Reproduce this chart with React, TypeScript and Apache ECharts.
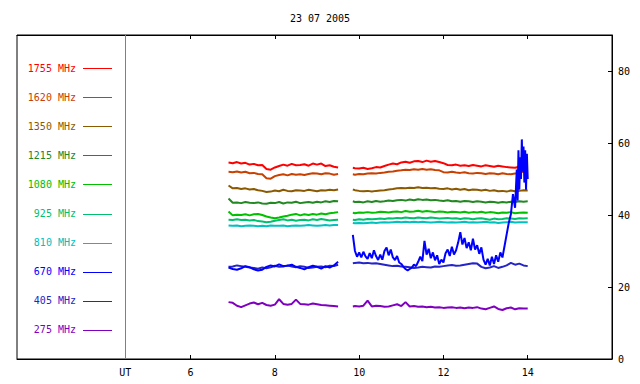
import React, { useEffect, useRef } from 'react';
import * as echarts from 'echarts';

const chartTitle = '23 07 2005';
const freqLabels = ['1755 MHz', '1620 MHz', '1350 MHz', '1215 MHz', '1080 MHz', '925 MHz', '810 MHz', '670 MHz', '405 MHz', '275 MHz'];
const freqColors = ['#ff0000', '#c84100', '#8b5a00', '#228822', '#00c000', '#00c070', '#00c0c0', '#0000ff', '#2424c8', '#8000c0'];

const yTicks = [0, 20, 40, 60, 80];
const xTicks = [6, 8, 10, 12, 14];
const utPos = 4.45;

// time stamps (UT hours)
const tA = [6.9, 7.0, 7.1, 7.2, 7.3, 7.4, 7.5, 7.6, 7.7, 7.8, 7.9, 8.0, 8.1, 8.2, 8.3, 8.4, 8.5, 8.6, 8.7, 8.8, 8.9, 9.0, 9.1, 9.2, 9.3, 9.4, 9.5];
const tB = [9.85, 9.9, 10.0, 10.1, 10.2, 10.3, 10.4, 10.5, 10.6, 10.7, 10.8, 10.9, 11.0, 11.1, 11.2, 11.3, 11.4, 11.5, 11.6, 11.7, 11.8, 11.9, 12.0, 12.1, 12.2, 12.3, 12.4, 12.5, 12.6, 12.7, 12.8, 12.9, 13.0, 13.1, 13.2, 13.3, 13.4, 13.5, 13.6, 13.7, 13.8, 13.9, 14.0];

const f1755A = [54.6, 54.4, 54.7, 54.3, 54.5, 54.0, 54.2, 53.8, 53.9, 52.8, 52.6, 53.2, 53.6, 54.0, 53.7, 54.2, 53.8, 53.9, 54.1, 53.7, 54.3, 54.0, 54.3, 53.6, 53.8, 53.4, 53.2];
const f1755B = [53.1, 53.0, 52.9, 53.1, 52.8, 53.0, 53.3, 53.2, 53.6, 54.0, 54.3, 54.1, 54.6, 54.8, 54.5, 54.9, 55.0, 54.7, 55.1, 54.8, 55.0, 54.7, 54.4, 53.9, 53.8, 54.0, 53.7, 53.8, 53.6, 53.9, 53.7, 53.5, 53.8, 53.6, 53.4, 53.7, 53.5, 53.3, 53.2, 53.1, 53.4, 54.0, 53.5];
const f1620A = [52.0, 51.9, 52.1, 51.8, 52.0, 51.6, 51.7, 51.4, 51.3, 50.2, 50.1, 50.8, 51.1, 51.3, 51.0, 51.4, 51.2, 51.3, 51.1, 51.4, 51.6, 51.5, 51.3, 51.6, 51.5, 51.2, 51.4];
const f1620B = [51.3, 51.2, 51.4, 51.3, 51.5, 51.6, 51.5, 51.7, 51.8, 52.0, 52.1, 52.3, 52.4, 52.6, 52.5, 52.7, 52.6, 52.8, 52.6, 52.7, 52.5, 52.4, 51.9, 51.8, 52.0, 51.8, 51.7, 51.9, 51.6, 51.5, 51.7, 51.6, 51.4, 51.6, 51.5, 51.3, 51.6, 51.4, 51.3, 51.5, 51.6, 52.1, 51.8];
const f1350A = [48.2, 47.4, 47.5, 47.2, 47.4, 47.1, 47.2, 46.9, 46.7, 46.4, 46.5, 46.8, 46.6, 47.0, 46.7, 46.6, 46.9, 46.8, 46.7, 47.0, 46.8, 46.6, 46.9, 46.8, 47.0, 46.9, 47.1];
const f1350B = [47.1, 46.9, 46.7, 46.6, 46.7, 46.5, 46.7, 46.8, 46.9, 47.1, 47.2, 47.4, 47.5, 47.4, 47.6, 47.5, 47.7, 47.5, 47.6, 47.4, 47.5, 47.3, 47.2, 47.4, 47.1, 47.3, 47.0, 47.2, 46.9, 47.1, 47.0, 46.8, 47.0, 46.7, 46.9, 46.6, 46.7, 46.5, 46.8, 46.6, 46.7, 46.9, 46.8];
const f1215A = [44.6, 43.4, 43.5, 43.3, 43.6, 43.4, 43.3, 43.5, 43.2, 43.1, 43.4, 43.3, 43.6, 43.2, 43.5, 43.4, 43.7, 43.3, 43.5, 43.6, 43.4, 43.7, 43.5, 43.8, 43.6, 43.9, 43.8];
const f1215B = [43.8, 43.6, 43.7, 43.5, 43.8, 43.6, 43.9, 43.7, 43.8, 44.0, 43.9, 44.1, 44.2, 44.0, 44.3, 44.1, 44.4, 44.2, 44.3, 44.1, 44.2, 44.0, 43.9, 44.1, 43.8, 43.9, 43.7, 43.9, 43.8, 43.6, 43.8, 43.7, 43.5, 43.7, 43.6, 43.4, 43.6, 43.5, 43.7, 43.6, 43.8, 43.7, 43.8];
const f1080A = [41.0, 39.9, 40.1, 40.0, 40.2, 39.9, 40.2, 40.3, 40.0, 39.6, 39.3, 39.1, 39.3, 39.6, 39.8, 40.1, 40.3, 39.9, 40.2, 40.0, 40.3, 40.1, 40.4, 40.2, 40.5, 40.6, 40.8];
const f1080B = [40.6, 40.5, 40.7, 40.6, 40.8, 40.6, 40.7, 40.9, 40.8, 40.7, 40.9, 41.0, 40.8, 41.1, 40.9, 41.0, 41.2, 40.9, 41.1, 41.0, 40.8, 41.0, 40.9, 40.7, 40.9, 40.8, 40.7, 40.9, 40.6, 40.8, 40.7, 40.9, 40.6, 40.8, 40.7, 40.5, 40.7, 40.6, 40.8, 40.5, 40.6, 40.7, 40.6];
const f925A = [38.7, 38.6, 38.8, 38.6, 38.7, 38.5, 38.6, 38.3, 38.2, 38.0, 38.1, 38.4, 38.6, 38.8, 38.5, 38.7, 38.4, 38.6, 38.7, 38.5, 38.8, 38.6, 38.9, 38.7, 38.5, 38.6, 38.7];
const f925B = [38.7, 38.6, 38.8, 38.7, 38.9, 38.8, 38.9, 39.0, 38.9, 39.1, 39.0, 39.2, 39.1, 39.3, 39.2, 39.1, 39.3, 39.2, 39.1, 39.3, 39.2, 39.0, 39.1, 39.2, 39.0, 39.1, 38.9, 39.1, 39.0, 38.8, 39.0, 39.1, 38.9, 38.7, 39.0, 38.8, 38.9, 39.1, 39.0, 38.9, 39.1, 39.0, 39.1];
const f810A = [37.1, 37.0, 37.1, 36.9, 37.0, 37.1, 37.0, 36.9, 37.0, 36.9, 37.1, 37.0, 37.0, 37.1, 36.9, 37.0, 37.1, 37.0, 37.1, 37.2, 37.1, 37.0, 37.1, 37.2, 37.1, 37.2, 37.2];
const f810B = [37.8, 37.7, 37.8, 37.7, 37.8, 37.9, 37.8, 37.9, 38.0, 37.9, 38.0, 38.1, 38.0, 38.1, 38.0, 38.1, 38.0, 38.1, 38.0, 37.9, 38.0, 38.1, 38.0, 37.9, 38.0, 37.9, 38.0, 38.1, 37.9, 38.0, 37.9, 38.0, 38.1, 37.9, 38.0, 37.8, 37.9, 38.0, 38.1, 37.9, 38.0, 38.0, 38.0];
const f670A = [25.4, 25.0, 24.8, 25.2, 25.8, 25.5, 24.9, 24.6, 24.8, 25.6, 26.0, 25.7, 26.3, 25.8, 25.9, 26.2, 25.6, 25.3, 24.9, 25.5, 25.9, 25.6, 25.1, 25.8, 25.4, 26.0, 27.0];
// 670 MHz, second interval, denser [UT, value] pairs
const f670B = [
  [9.85, 34.5], [9.9, 30.0], [9.95, 28.4], [10.0, 29.6], [10.05, 28.2], [10.1, 29.8], [10.15, 28.5], [10.2, 27.8], [10.25, 29.4], [10.3, 28.0],
  [10.35, 30.2], [10.4, 28.6], [10.45, 27.5], [10.5, 29.0], [10.55, 27.6], [10.6, 30.0], [10.65, 31.0], [10.7, 28.8], [10.75, 30.4], [10.8, 28.2],
  [10.85, 27.5], [10.9, 28.6], [10.95, 26.8], [11.0, 26.4], [11.05, 25.6], [11.1, 25.0], [11.15, 24.6], [11.2, 25.0], [11.25, 25.4], [11.3, 26.2],
  [11.35, 25.8], [11.4, 27.0], [11.45, 28.4], [11.5, 27.2], [11.55, 32.8], [11.6, 29.0], [11.65, 30.6], [11.7, 28.0], [11.75, 29.6], [11.8, 27.4],
  [11.85, 28.8], [11.9, 26.4], [11.95, 27.6], [12.0, 26.8], [12.05, 29.4], [12.1, 30.4], [12.15, 28.6], [12.2, 31.2], [12.25, 29.0], [12.3, 30.2],
  [12.35, 32.4], [12.4, 35.2], [12.45, 31.8], [12.5, 33.6], [12.55, 30.8], [12.6, 32.4], [12.65, 30.2], [12.7, 33.4], [12.75, 30.4], [12.8, 31.6],
  [12.85, 29.2], [12.9, 31.0], [12.95, 27.6], [13.0, 26.2], [13.05, 27.8], [13.1, 26.0], [13.15, 28.4], [13.2, 26.4], [13.25, 28.8], [13.3, 27.0],
  [13.35, 29.6], [13.4, 28.2], [13.45, 31.4], [13.5, 34.6], [13.55, 37.8], [13.6, 40.2], [13.65, 45.8], [13.7, 42.0], [13.74, 52.6], [13.76, 44.0],
  [13.78, 58.0], [13.8, 47.0], [13.82, 56.0], [13.84, 50.0], [13.86, 61.0], [13.88, 52.0], [13.9, 59.0], [13.92, 49.0], [13.94, 58.0], [13.96, 47.0],
  [13.98, 57.0], [14.0, 50.0]
];
const f405A = [25.6, 25.7, 26.0, 25.8, 25.6, 25.4, 25.3, 25.1, 25.4, 25.2, 25.5, 25.9, 25.6, 25.7, 26.0, 25.7, 25.5, 25.8, 25.6, 25.3, 25.4, 25.6, 25.7, 25.5, 25.9, 25.8, 26.2];
const f405B = [26.6, 26.7, 26.8, 26.6, 26.7, 26.5, 26.6, 26.4, 26.2, 26.0, 25.8, 25.9, 25.7, 25.6, 25.5, 25.3, 25.4, 25.6, 25.5, 25.4, 25.7, 25.6, 25.8, 26.0, 26.1, 25.9, 26.0, 26.2, 26.4, 26.6, 26.5, 25.6, 25.2, 25.4, 25.8, 25.3, 25.6, 26.0, 26.7, 26.2, 26.5, 26.0, 25.8];
const f275A = [15.8, 15.6, 14.8, 14.4, 14.9, 15.4, 15.7, 15.2, 15.6, 15.0, 14.8, 15.1, 16.6, 15.3, 15.1, 15.3, 16.5, 15.3, 15.2, 15.1, 15.4, 15.2, 15.0, 14.9, 14.8, 14.7, 14.6];
const f275B = [14.6, 14.7, 14.6, 14.8, 16.2, 14.6, 14.8, 14.7, 14.5, 14.6, 14.9, 15.2, 14.7, 15.8, 14.6, 14.7, 14.5, 14.6, 14.4, 14.5, 14.3, 14.4, 14.2, 14.3, 14.4, 14.2, 14.3, 14.1, 14.3, 14.2, 14.4, 14.0, 13.8, 14.2, 14.6, 13.9, 13.6, 14.1, 14.3, 13.8, 14.1, 14.0, 14.0];

const FONT = '"DejaVu Sans Mono", monospace';

function zip(t: number[], v: number[]) {
  return t.map((x, i) => [x, v[i]]);
}

function build(a: any[], b: any[]) {
  return [...a, [9.7, null], ...b];
}

const seriesData: any[][] = [
  build(zip(tA, f1755A), zip(tB, f1755B)),
  build(zip(tA, f1620A), zip(tB, f1620B)),
  build(zip(tA, f1350A), zip(tB, f1350B)),
  build(zip(tA, f1215A), zip(tB, f1215B)),
  build(zip(tA, f1080A), zip(tB, f1080B)),
  build(zip(tA, f925A), zip(tB, f925B)),
  build(zip(tA, f810A), zip(tB, f810B)),
  build(zip(tA, f670A), f670B),
  build(zip(tA, f405A), zip(tB, f405B)),
  build(zip(tA, f275A), zip(tB, f275B)),
];

export default function App() {
  const ref = useRef<HTMLDivElement>(null);
  useEffect(() => {
    document.body.style.margin = '0';
    const chart = echarts.init(ref.current!, null, { renderer: 'svg' });

    const drawOrder = [9, 8, 6, 5, 4, 3, 2, 1, 0, 7];
    const series: any[] = drawOrder.map((i, k) => ({
      name: freqLabels[i],
      type: 'line',
      data: seriesData[i],
      showSymbol: false,
      connectNulls: false,
      lineStyle: { color: freqColors[i], width: 2 },
      itemStyle: { color: freqColors[i] },
      z: 2 + k,
      ...(k === 0
        ? {
            markLine: {
              silent: true,
              symbol: 'none',
              label: { show: false },
              lineStyle: { color: '#808080', width: 1, type: 'solid' },
              data: [{ xAxis: utPos }],
            },
          }
        : {}),
    }));

    const legendGraphics: any[] = [];
    freqLabels.forEach((lab, i) => {
      const y = 68 + i * 29.1;
      legendGraphics.push({
        type: 'text',
        x: 76,
        y,
        style: {
          text: lab,
          fill: freqColors[i],
          font: `10px ${FONT}`,
          textAlign: 'right',
          textVerticalAlign: 'middle',
        },
      });
      legendGraphics.push({
        type: 'line',
        shape: { x1: 83, y1: Math.round(y) + 0.5, x2: 112, y2: Math.round(y) + 0.5 },
        style: { stroke: freqColors[i], lineWidth: 1 },
      });
    });

    const option: any = {
      animation: false,
      backgroundColor: '#ffffff',
      title: {
        text: chartTitle,
        left: 315,
        top: 8,
        textAlign: 'center',
        textStyle: { fontFamily: FONT, fontSize: 10, fontWeight: 'normal', color: '#000' },
      },
      grid: {
        left: 17,
        top: 35,
        width: 595,
        height: 324,
        show: true,
        borderColor: '#000',
        borderWidth: 1,
        backgroundColor: 'transparent',
      },
      xAxis: [
        {
          type: 'value',
          position: 'bottom',
          min: 1.88,
          max: 16,
          splitLine: { show: false },
          axisLine: { show: true, lineStyle: { color: '#000', width: 1 } },
          axisTick: { show: true, inside: true, length: 4, customValues: xTicks, lineStyle: { color: '#000' } },
          axisLabel: {
            customValues: [utPos, ...xTicks],
            formatter: (v: number) => (v < 5 ? 'UT' : String(v)),
            fontFamily: FONT,
            fontSize: 10,
            color: '#000',
            margin: 8,
          },
        },
        {
          type: 'value',
          position: 'top',
          min: 1.88,
          max: 16,
          splitLine: { show: false },
          axisLine: { show: true, lineStyle: { color: '#000', width: 1 } },
          axisTick: { show: true, inside: true, length: 4, customValues: xTicks, lineStyle: { color: '#000' } },
          axisLabel: { show: false },
        },
      ],
      yAxis: [
        {
          type: 'value',
          position: 'right',
          min: 0,
          max: 90,
          splitLine: { show: false },
          axisLine: { show: true, lineStyle: { color: '#000', width: 1 } },
          axisTick: { show: true, inside: true, length: 4, customValues: yTicks, lineStyle: { color: '#000' } },
          axisLabel: {
            customValues: yTicks,
            fontFamily: FONT,
            fontSize: 10,
            color: '#000',
            margin: 6,
          },
        },
      ],
      graphic: legendGraphics,
      series,
    };
    chart.setOption(option);
    return () => chart.dispose();
  }, []);
  return <div ref={ref} style={{ width: 640, height: 384 }} />;
}
